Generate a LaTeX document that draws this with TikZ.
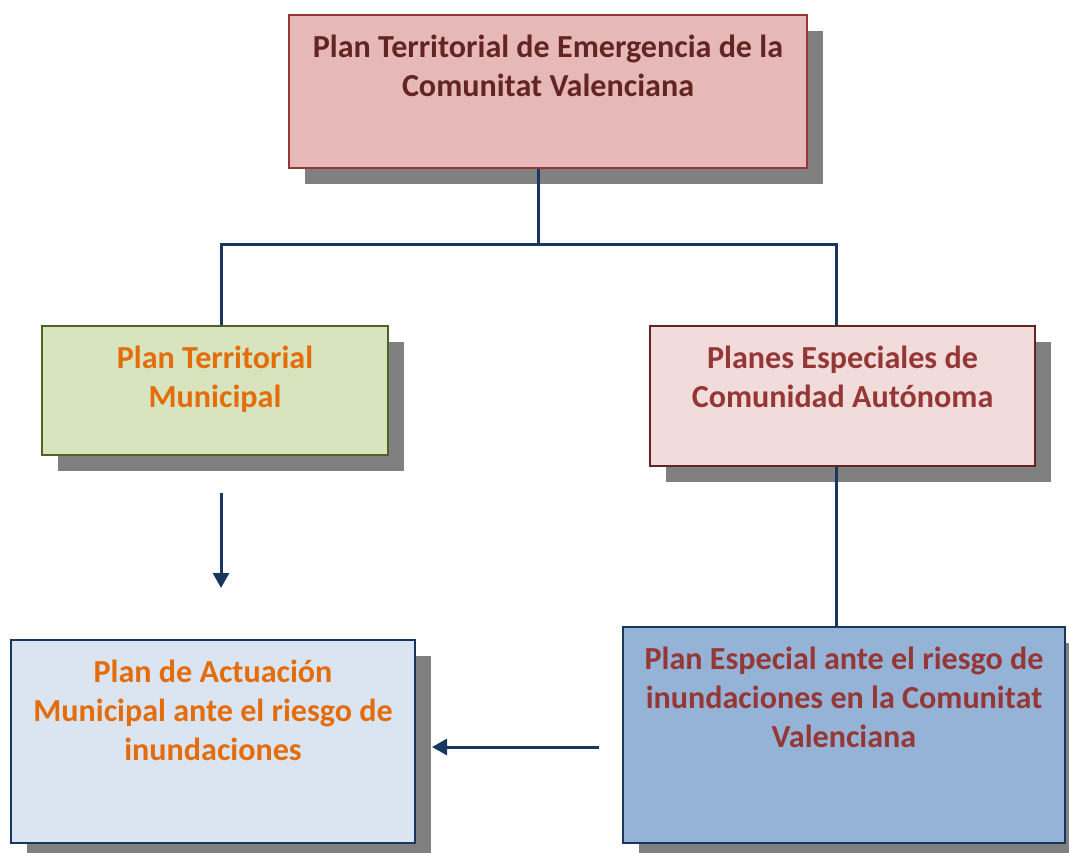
\documentclass[tikz,border=0pt]{standalone}
\usepackage{fontspec}
\setmainfont{Carlito}
\usetikzlibrary{arrows.meta,shadows}
\definecolor{shadowgray}{RGB}{128,128,128}
\definecolor{linkblue}{RGB}{23,55,94}
\definecolor{topfill}{RGB}{230,185,184}
\definecolor{topdraw}{RGB}{149,55,53}
\definecolor{toptext}{RGB}{99,37,35}
\definecolor{greenfill}{RGB}{215,228,189}
\definecolor{greendraw}{RGB}{79,98,40}
\definecolor{orangetext}{RGB}{228,108,10}
\definecolor{pinkfill}{RGB}{242,220,219}
\definecolor{pinkdraw}{RGB}{99,37,35}
\definecolor{redtext}{RGB}{149,55,53}
\definecolor{lbluefill}{RGB}{219,229,241}
\definecolor{bluefill}{RGB}{149,179,215}
\definecolor{bluedraw}{RGB}{23,55,94}
\tikzset{
  box/.style={rectangle, line width=2pt, inner sep=0pt,
    drop shadow={shadow xshift=16pt, shadow yshift=-16pt, opacity=1, fill=shadowgray}},
  boxtext/.style={anchor=north, align=center, inner sep=0pt,
    font=\bfseries\fontsize{32.1}{39}\selectfont},
  link/.style={draw=linkblue, line width=3pt},
  linkarrow/.style={link, -{Triangle[length=15pt,width=16pt]}}
}
\begin{document}
\begin{tikzpicture}[x=1pt,y=1pt]
\useasboundingbox (0,0) rectangle (1069,-852);
% boxes
\node[box, draw=topdraw, fill=topfill, minimum width=518pt, minimum height=153pt] (b1) at (548,-91.5) {};
\node[box, draw=greendraw, fill=greenfill, minimum width=346pt, minimum height=129pt] (b2) at (215,-390.5) {};
\node[box, draw=pinkdraw, fill=pinkfill, minimum width=385pt, minimum height=140pt] (b3) at (842.5,-396) {};
\node[box, draw=bluedraw, fill=lbluefill, minimum width=404pt, minimum height=203pt] (b4) at (213,-741.5) {};
\node[box, draw=bluedraw, fill=bluefill, minimum width=442pt, minimum height=216pt] (b5) at (844,-735) {};
% texts
\node[boxtext, text=toptext] (t1) at ([yshift=-21pt]b1.north) {Plan Territorial de Emergencia de la\\Comunitat Valenciana};
\node[boxtext, text=orangetext] (t2) at ([yshift=-21pt]b2.north) {Plan Territorial\\Municipal};
\node[boxtext, text=redtext] (t3) at ([yshift=-21pt]b3.north) {Planes Especiales de\\Comunidad Autónoma};
\node[boxtext, text=orangetext] (t4) at ([yshift=-21pt]b4.north) {Plan de Actuación\\Municipal ante el riesgo de\\inundaciones};
\node[boxtext, text=redtext] (t5) at ([yshift=-21pt]b5.north) {Plan Especial ante el riesgo de\\inundaciones en la Comunitat\\Valenciana};
% connector helpers
\coordinate (j) at (538,-244);
\coordinate (jl) at (221,-244);
\coordinate (jr) at (836,-244);
\coordinate (a1s) at (221,-493);
\coordinate (a1e) at (221,-588);
\coordinate (a2s) at (599,-747);
\coordinate (a2e) at (432,-747);
% connectors
\draw[link] (b1.south -| j) -- (j);
\draw[link] (jl |- b2.north) -- (jl) -- (jr) -- (jr |- b3.north);
\draw[link] (jr |- b3.south) -- (jr |- b5.north);
\draw[linkarrow] (a1s) -- (a1e);
\draw[linkarrow] (a2s) -- (a2e);
\end{tikzpicture}
\end{document}
